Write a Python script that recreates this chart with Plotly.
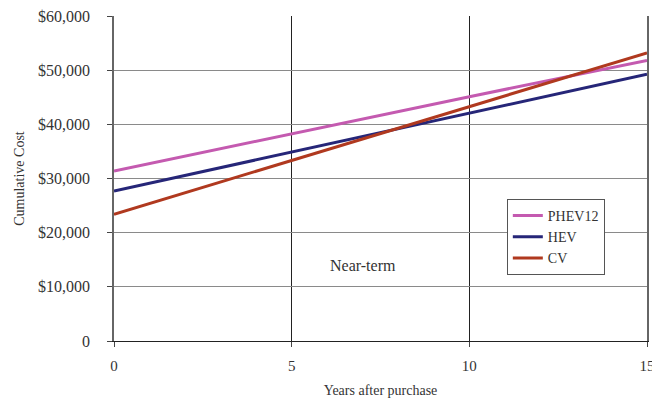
import plotly.graph_objects as go

years = [0, 5, 10, 15]
phev12 = [31400, 38300, 45100, 51800]
hev = [27700, 34850, 42100, 49250]
cv = [23400, 33300, 43250, 53200]

y_tickvals = [0, 10000, 20000, 30000, 40000, 50000, 60000]
y_ticktext = ["0", "$10,000", "$20,000", "$30,000", "$40,000", "$50,000", "$60,000"]
x_tickvals = [0, 5, 10, 15]

FONT = "Liberation Serif"

fig = go.Figure()
fig.add_trace(go.Scatter(x=years, y=phev12, mode="lines", name="PHEV12",
                         line=dict(color="#C45AB0", width=3)))
fig.add_trace(go.Scatter(x=years, y=hev, mode="lines", name="HEV",
                         line=dict(color="#262678", width=3)))
fig.add_trace(go.Scatter(x=years, y=cv, mode="lines", name="CV",
                         line=dict(color="#B0391F", width=3)))

# page body has an 8px margin, so the figure is 652x390 and offset by 8px
fig.update_layout(
    width=652, height=390,
    margin=dict(l=106, r=13, t=8, b=57, autoexpand=False),
    paper_bgcolor="white", plot_bgcolor="white",
    font=dict(family=FONT, size=15, color="#333"),
    legend=dict(x=0.737, y=0.437, xanchor="left", yanchor="top",
                bgcolor="white", bordercolor="#555", borderwidth=1,
                font=dict(family=FONT, size=14, color="#333"),
                tracegroupgap=0, itemwidth=30),
    xaxis=dict(range=[0, 15], tickvals=x_tickvals, showgrid=True, gridcolor="#222",
               gridwidth=1, showline=True, linecolor="#222", linewidth=1,
               ticks="outside", ticklen=5, tickcolor="#444", zeroline=False,
               automargin=False, ticklabelstandoff=6, ticklabeloverflow="allow",
               title=dict(text="Years after purchase", font=dict(size=14), standoff=13),
               tickfont=dict(size=15)),
    yaxis=dict(range=[0, 60000], tickvals=y_tickvals, ticktext=y_ticktext,
               showgrid=True, gridcolor="#8a8a8a", gridwidth=1,
               showline=True, linecolor="#666", linewidth=1.5, mirror=True,
               ticks="outside", ticklen=5, tickcolor="#444", zeroline=False,
               automargin=False, ticklabelstandoff=14, ticklabeloverflow="allow",
               title=dict(text="Cumulative Cost", font=dict(size=14), standoff=10),
               tickfont=dict(size=16)),
    annotations=[dict(x=7, y=14000, xref="x", yref="y", text="Near-term",
                      showarrow=False, font=dict(family=FONT, size=16, color="#333"))],
    showlegend=True,
)

fig.write_html("out.html")
